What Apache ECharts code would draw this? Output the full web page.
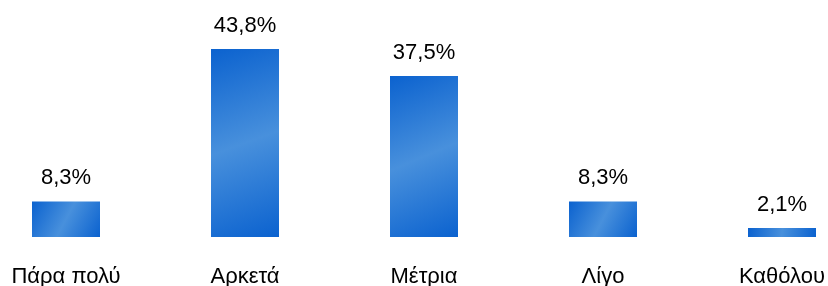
<!DOCTYPE html>
<html>
<head>
<meta charset="utf-8">
<script src="https://cdn.jsdelivr.net/npm/echarts@6/dist/echarts.min.js"></script>
<style>html,body{margin:0;padding:0;background:#fff;}#c{width:828px;height:286px;}</style>
</head>
<body>
<div id="c"></div>
<script>
const categories = ['Πάρα πολύ', 'Αρκετά', 'Μέτρια', 'Λίγο', 'Καθόλου'];
const values = [8.3, 43.8, 37.5, 8.3, 2.1];

const chart = echarts.init(document.getElementById('c'), null, {renderer: 'canvas'});
const grad = new echarts.graphic.LinearGradient(0, 0, 1, 1, [
  {offset: 0, color: '#0b62cf'},
  {offset: 0.5, color: '#4890dc'},
  {offset: 1, color: '#0b62cf'}
]);
chart.setOption({
  animation: false,
  grid: {left: -23.5, width: 895, top: 22.4, bottom: 49, containLabel: false, outerBoundsMode: 'none'},
  xAxis: {
    type: 'category',
    data: categories,
    axisLine: {show: false},
    axisTick: {show: false},
    axisLabel: {
      color: '#000',
      fontFamily: 'Liberation Sans, Arial, sans-serif',
      fontSize: 22,
      margin: 29,
      interval: 0
    }
  },
  yAxis: {
    type: 'value',
    min: 0,
    max: 50,
    show: false,
    splitLine: {show: false}
  },
  series: [{
    type: 'bar',
    data: values,
    barWidth: 68,
    itemStyle: {color: grad},
    label: {
      show: true,
      position: 'top',
      distance: 12.5,
      color: '#000',
      fontFamily: 'Liberation Sans, Arial, sans-serif',
      fontSize: 22,
      formatter: p => p.value.toFixed(1).replace('.', ',') + '%'
    }
  }]
});
</script>
</body>
</html>
